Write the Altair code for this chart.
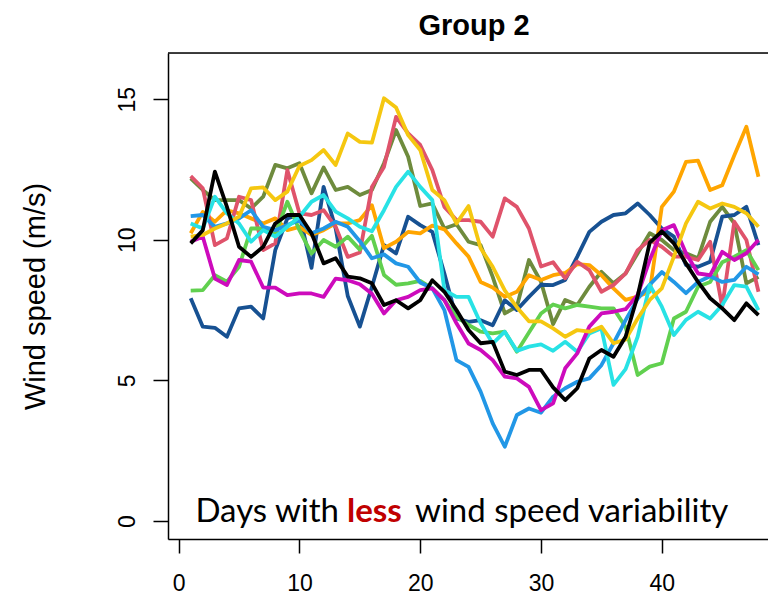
import altair as alt
import pandas as pd

days = list(range(1, 49))

black = [9.87, 10.34, 12.42, 11.17, 9.75, 9.39, 9.75, 10.58, 10.88, 10.88,
         10.23, 9.16, 9.34, 8.69, 8.63, 8.45, 7.68, 7.85, 7.56, 7.85,
         8.56, 8.15, 7.5, 6.79, 6.32, 6.37, 5.31, 5.19, 5.37, 5.37,
         4.75, 4.3, 4.72, 5.78, 6.08, 5.84, 6.55, 8.0, 9.9, 10.3,
         9.87, 9.16, 8.5, 7.92, 7.56, 7.14, 7.74, 7.32]
darkblue = [7.92, 6.91, 6.87, 6.55, 7.56, 7.62, 7.2, 9.63, 10.76, 10.9,
            9.0, 11.88, 10.4, 8.0, 6.91, 8.33, 9.81, 9.51, 10.82, 10.52,
            10.28, 8.8, 7.2, 7.08, 7.14, 6.96, 7.85, 7.5, 7.97, 8.4,
            8.39, 8.57, 9.4, 10.28, 10.64, 10.88, 10.94, 11.29, 10.88, 10.4,
            10.11, 9.1, 9.04, 9.22, 10.82, 10.88, 11.17, 9.81]
red = [12.26, 11.83, 9.81, 10.05, 11.53, 11.41, 9.63, 9.87, 12.48, 10.94,
       10.88, 11.05, 10.46, 9.39, 9.55, 11.88, 12.59, 14.37, 13.78, 13.37,
       12.48, 11.17, 10.7, 10.7, 10.64, 10.11, 11.47, 11.17, 10.4, 9.05,
       9.2, 8.63, 9.22, 8.92, 8.15, 8.39, 8.8, 9.63, 9.99, 9.75,
       9.4, 9.4, 9.28, 9.93, 7.62, 10.64, 9.99, 8.15]
olive = [12.18, 11.77, 11.41, 11.41, 11.41, 11.11, 11.53, 12.66, 12.54, 12.72,
         11.65, 12.57, 11.77, 11.88, 11.59, 11.77, 12.72, 13.9, 12.95, 11.2,
         11.29, 10.4, 10.55, 9.93, 9.81, 8.68, 7.38, 7.62, 9.28, 8.5,
         7.0, 7.86, 7.68, 8.33, 8.86, 8.45, 8.8, 9.52, 10.23, 9.99,
         9.63, 9.52, 9.34, 10.64, 11.17, 10.58, 8.45, 8.68]
orange = [10.23, 10.99, 10.64, 11.05, 10.94, 10.76, 10.58, 10.76, 10.34, 10.46,
          10.17, 10.34, 10.58, 10.58, 10.7, 11.23, 9.7, 9.93, 10.28, 10.23,
          10.5, 10.37, 9.87, 9.4, 8.5, 8.3, 7.97, 8.15, 8.74, 8.57,
          8.74, 8.82, 9.13, 9.1, 8.74, 8.27, 7.86, 7.98, 8.15, 11.17,
          11.71, 12.77, 12.81, 11.77, 11.94, 13.0, 14.02, 12.24]
gold = [10.11, 10.17, 10.4, 10.58, 10.82, 11.83, 11.86, 11.41, 11.71, 12.62,
        12.83, 13.19, 12.66, 13.78, 13.48, 13.45, 15.03, 14.7, 13.72, 13.19,
        11.77, 11.41, 10.58, 11.2, 9.7, 9.04, 8.2, 7.6, 7.1, 7.1,
        6.85, 6.55, 6.79, 6.73, 6.91, 6.32, 6.45, 7.2, 7.86, 8.27,
        9.4, 10.58, 11.35, 11.11, 11.29, 11.17, 10.94, 10.46]
cyan = [10.58, 10.4, 11.53, 10.94, 10.58, 9.93, 10.34, 10.11, 10.46, 10.82,
        11.35, 11.59, 11.0, 10.76, 10.46, 10.3, 11.05, 11.88, 12.42, 11.88,
        11.41, 8.21, 7.97, 7.97, 7.03, 6.31, 6.73, 6.05, 6.2, 6.28,
        6.05, 6.37, 6.02, 6.67, 6.85, 4.84, 5.4, 6.55, 8.39, 7.62,
        6.61, 7.15, 7.44, 7.2, 7.68, 8.39, 8.33, 7.5]
lightblue = [10.84, 10.88, 10.46, 10.58, 10.76, 11.05, 10.46, 10.34, 10.52, 10.7,
             10.23, 10.4, 10.64, 10.46, 9.95, 9.34, 9.48, 9.16, 9.04, 8.48,
             8.27, 7.5, 5.72, 5.48, 4.6, 3.47, 2.64, 3.77, 4.0, 3.85,
             4.42, 4.72, 4.95, 5.07, 5.54, 6.32, 7.14, 7.9, 8.4, 8.85,
             8.5, 8.1, 8.5, 8.7, 8.5, 8.57, 9.04, 8.77]
green = [8.19, 8.21, 8.74, 8.51, 9.04, 10.4, 10.4, 10.2, 11.35, 10.34,
         9.51, 9.99, 9.75, 10.11, 9.65, 10.14, 8.75, 8.4, 8.45, 8.54,
         8.27, 7.85, 7.26, 6.97, 6.73, 6.67, 6.73, 6.02, 6.7, 7.38,
         7.7, 7.56, 7.68, 7.62, 7.56, 7.56, 6.9, 5.19, 5.49, 5.61,
         7.2, 7.44, 8.33, 8.5, 9.2, 9.4, 9.63, 8.92]
magenta = [9.93, 10.11, 8.62, 8.39, 9.28, 9.22, 8.3, 8.3, 8.03, 8.09,
           8.09, 7.97, 8.62, 8.56, 8.42, 8.08, 7.38, 7.85, 7.97, 8.21,
           8.27, 7.85, 7.03, 6.31, 6.08, 5.72, 5.13, 5.07, 4.77, 3.94,
           4.18, 5.43, 5.96, 6.91, 7.38, 7.44, 7.53, 8.04, 9.28, 10.34,
           10.52, 9.52, 8.8, 8.74, 9.57, 9.28, 9.52, 9.99]

series_names = ["olive", "darkblue", "orange", "red", "green",
                "lightblue", "cyan", "magenta", "gold", "black"]
series_values = [olive, darkblue, orange, red, green,
                 lightblue, cyan, magenta, gold, black]
series_colors = ["#6E8B3D", "#175192", "#FFA500", "#DF536B", "#61D04F",
                 "#2297E6", "#28E2E5", "#CD0BBC", "#F5C710", "#000000"]

x_ticks = [0, 10, 20, 30, 40]
y_ticks = [0, 5, 10, 15]

title_text = "Group 2"
y_title = "Wind speed (m/s)"
ann_before = "Days with"
ann_bold = "less"
ann_after = "wind speed variability"

W, H = 600, 486

rows = []
for i, (name, vals) in enumerate(zip(series_names, series_values)):
    for d, v in zip(days, vals):
        rows.append({"series": f"{i:02d}_{name}", "day": d, "speed": v})
df = pd.DataFrame(rows)
domain_names = [f"{i:02d}_{n}" for i, n in enumerate(series_names)]

xscale = alt.Scale(domain=[-0.88, 48.79], nice=False, zero=False)
yscale = alt.Scale(domain=[-0.64, 16.64], nice=False, zero=False)

lines = alt.Chart(df).mark_line(strokeWidth=3.8, strokeJoin="round").encode(
    x=alt.X("day:Q", scale=xscale,
            axis=alt.Axis(values=x_ticks, title=None, grid=False,
                          domainColor="black", domainWidth=1.5,
                          tickColor="black", tickWidth=1.5, tickSize=14,
                          labelFont="Liberation Sans", labelFontSize=23,
                          labelColor="black", labelBaseline="alphabetic",
                          labelPadding=37, labelFlush=False)),
    y=alt.Y("speed:Q", scale=yscale,
            axis=alt.Axis(values=y_ticks, grid=False,
                          title=y_title,
                          domainColor="black", domainWidth=1.5,
                          tickColor="black", tickWidth=1.5, tickSize=15,
                          labelFont="Liberation Sans", labelFontSize=23,
                          labelColor="black", labelAngle=270,
                          labelAlign="center", labelBaseline="alphabetic",
                          labelPadding=19, labelFlush=False,
                          titleFont="Liberation Sans", titleFontSize=29,
                          titleFontWeight="normal", titleColor="black",
                          titleAngle=270, titleX=-124, titleY=H / 2,
                          titleAlign="center", titleBaseline="alphabetic")),
    color=alt.Color("series:N", legend=None,
                    scale=alt.Scale(domain=domain_names, range=series_colors)),
    detail="series:N",
)

top_rule = alt.Chart(pd.DataFrame({"k": [0]})).mark_rule(
    color="black", strokeWidth=1.5).encode(
    x=alt.value(0), x2=alt.value(W), y=alt.value(0))

ann = pd.DataFrame({"t0": [title_text], "t1": [ann_before], "t2": [ann_bold],
                    "t3": [ann_after]})
title_mark = alt.Chart(ann).mark_text(
    font="Liberation Sans", fontSize=29, fontWeight="bold", align="center",
    baseline="alphabetic", color="black").encode(
    text="t0:N", x=alt.value(306), y=alt.value(-18))
t1 = alt.Chart(ann).mark_text(font="Lato", fontSize=33, align="right",
                              baseline="alphabetic", color="black").encode(
    text="t1:N", x=alt.value(171), y=alt.value(469))
t2 = alt.Chart(ann).mark_text(font="Lato", fontSize=33, fontWeight="bold",
                              align="left", baseline="alphabetic",
                              color="#C00000").encode(
    text="t2:N", x=alt.value(179), y=alt.value(469))
t3 = alt.Chart(ann).mark_text(font="Lato", fontSize=33, align="left",
                              baseline="alphabetic", color="black").encode(
    text="t3:N", x=alt.value(247), y=alt.value(469))

chart = alt.layer(lines, top_rule, title_mark, t1, t2, t3).properties(
    width=W, height=H,
    autosize=alt.AutoSizeParams(type="none"),
    padding={"left": 160, "top": 45, "right": 0, "bottom": 58},
).configure_view(stroke=None).configure(background="white")

chart.save("out.html", embed_options={"renderer": "svg", "actions": False})
